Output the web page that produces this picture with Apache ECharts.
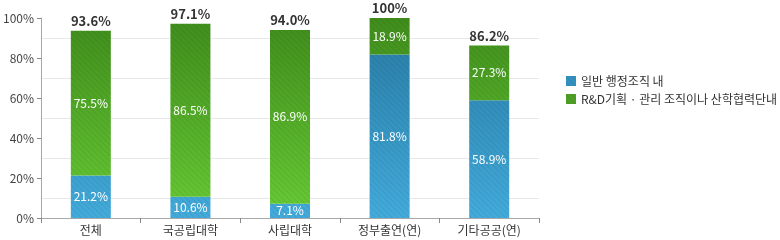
<!DOCTYPE html>
<html>
<head>
<meta charset="utf-8">
<script src="https://cdn.jsdelivr.net/npm/echarts@6/dist/echarts.min.js"></script>
<style>
html,body{margin:0;padding:0;background:#fff;}
#chart{width:780px;height:240px;}
</style>
</head>
<body>
<div id="chart"></div>
<script>
const categories = ['전체', '국공립대학', '사립대학', '정부출연(연)', '기타공공(연)'];
const seriesNames = ['일반 행정조직 내', 'R&D기획 · 관리 조직이나 산학협력단내'];
// bar segment heights (%)
const adminValues = [21.2, 10.6, 7.1, 81.8, 58.9];
const rndValues = [72.4, 86.5, 86.9, 18.2, 27.3];
// label texts as printed on the chart
const adminLabels = ['21.2%', '10.6%', '7.1%', '81.8%', '58.9%'];
const rndLabels = ['75.5%', '86.5%', '86.9%', '18.9%', '27.3%'];
const totalLabels = ['93.6%', '97.1%', '94.0%', '100%', '86.2%'];
const yTicks = [0, 20, 40, 60, 80, 100];

const FONT = '"Noto Sans CJK KR", "Noto Sans", sans-serif';
const gridTop = 18, gridBottom = 218;

function grad(top, bottom) {
  return {
    type: 'linear', x: 0, y: gridTop, x2: 0, y2: gridBottom, global: true,
    colorStops: [{offset: 0, color: top}, {offset: 1, color: bottom}]
  };
}
const decal = {
  symbol: 'rect', symbolSize: 1, dashArrayX: [1, 0], dashArrayY: [1, 3],
  rotation: Math.PI / 4, color: 'rgba(0,0,0,0.07)'
};

const chart = echarts.init(document.getElementById('chart'), null, {renderer: 'canvas'});
chart.setOption({
  animation: false,
  textStyle: {fontFamily: FONT},
  grid: {left: 40, right: 241, top: gridTop, bottom: 240 - gridBottom, containLabel: false},
  legend: {
    orient: 'vertical', left: 561, top: 70, itemWidth: 10, itemHeight: 10, itemGap: 6,
    icon: 'rect',
    textStyle: {fontSize: 12, color: '#333', fontFamily: FONT},
    data: [
      {name: seriesNames[0], itemStyle: {color: '#3391c0'}},
      {name: seriesNames[1], itemStyle: {color: '#4f9f27'}}
    ]
  },
  xAxis: {
    type: 'category', data: categories,
    axisLine: {lineStyle: {color: '#a8a8a8'}},
    axisTick: {show: true, length: 5, lineStyle: {color: '#888'}},
    axisLabel: {color: '#333', fontSize: 12, margin: 6, fontFamily: FONT}
  },
  yAxis: {
    type: 'value', min: yTicks[0], max: yTicks[yTicks.length - 1], interval: 20,
    axisLine: {show: true, lineStyle: {color: '#a8a8a8'}},
    axisTick: {show: true, length: 4, lineStyle: {color: '#888'}},
    axisLabel: {color: '#444', fontSize: 12, margin: 7, formatter: '{value}%', fontFamily: FONT},
    splitLine: {show: false},
    minorTick: {show: false, splitNumber: 2},
    minorSplitLine: {show: true, lineStyle: {color: '#e8e8e8'}}
  },
  series: [
    {
      name: seriesNames[0], type: 'bar', stack: 't', barWidth: 40, data: adminValues,
      itemStyle: {color: grad('#2679a2', '#43abdb'), decal: decal},
      label: {show: true, position: 'inside', color: '#fff', fontSize: 12, fontFamily: FONT,
        formatter: p => adminLabels[p.dataIndex]}
    },
    {
      name: seriesNames[1], type: 'bar', stack: 't', barWidth: 40, data: rndValues,
      itemStyle: {color: grad('#3f8c1c', '#68cb35'), decal: decal},
      label: {show: true, position: 'inside', color: '#fff', fontSize: 12, fontFamily: FONT,
        formatter: p => rndLabels[p.dataIndex]}
    },
    {
      name: 'total', type: 'bar', stack: 't', barWidth: 40, data: categories.map(() => 0),
      itemStyle: {color: 'transparent'},
      label: {show: true, position: 'top', distance: 3, color: '#333', fontSize: 13, fontWeight: 'bold', fontFamily: FONT,
        formatter: p => totalLabels[p.dataIndex]}
    }
  ]
});
</script>
</body>
</html>
